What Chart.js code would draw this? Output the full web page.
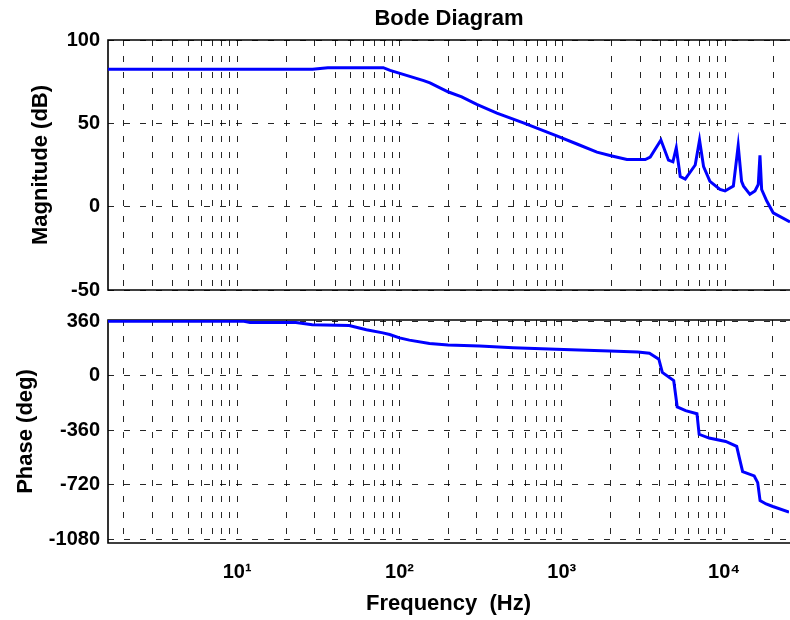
<!DOCTYPE html>
<html><head><meta charset="utf-8">
<script src="https://cdn.jsdelivr.net/npm/chart.js@4.4.0/dist/chart.umd.min.js"></script>
<style>
html,body{margin:0;padding:0;background:#fff;overflow:hidden;width:790px;height:620px;}
#w1{position:absolute;left:0;top:0;width:790px;height:310px;z-index:2;}
#w2{position:absolute;left:0;top:300px;width:790px;height:320px;z-index:1;}
</style></head><body>
<div id="w1"><canvas id="c1"></canvas></div>
<div id="w2"><canvas id="c2"></canvas></div>
<script>
// ---- data ----
const magFreq = [1.6, 29, 36, 79, 87, 100, 140, 153, 199, 240, 297, 395, 575, 922, 1227, 1629, 2015, 2491, 3228, 3466, 4033, 4488, 4779, 5011, 5300, 5690, 6555, 6970, 7380, 8075, 9310, 10000, 11250, 12050, 12640, 13000, 14220, 15280, 16010, 16400, 16800, 18030, 19780, 25100];
const magDb   = [82.5, 82.5, 83.4, 83.4, 81.8, 80.0, 75.6, 74.3, 68.8, 65.9, 61.4, 56.1, 50.3, 42.5, 37.6, 32.7, 30.4, 28.3, 28.3, 29.8, 40.0, 27.9, 26.9, 35.3, 18.1, 16.5, 25.0, 40.0, 24.0, 15.2, 10.3, 9.4, 12.3, 36.6, 15.2, 12.3, 7.4, 9.4, 13.3, 30.8, 10.3, 3.5, -3.7, -9.2];
const phaseFreq = [1.6, 11, 12, 23, 29, 49, 62.5, 79, 87, 100, 115, 153, 199, 311, 501, 922, 1970, 2940, 3466, 3960, 4160, 4890, 5140, 5790, 6800, 7015, 8075, 10230, 11950, 12410, 13000, 15320, 16100, 16650, 18130, 19950, 25100];
const phaseDeg  = [358, 358, 350, 350, 335, 330, 303, 282, 271, 249, 234, 212, 202, 195, 184, 173, 162, 156, 147, 108, 21, -33, -207, -232, -252, -388, -413, -435, -468, -544, -635, -663, -707, -826, -848, -865, -902];
const magTicks = [-50, 0, 50, 100];
const phaseTicks = [-1080, -720, -360, 0, 360];
const decadeLabels = {10: '10\u00B9', 100: '10\u00B2', 1000: '10\u00B3', 10000: '10\u2074'};
const freqMin = 1.6, freqMax = 25100;
const magMin = -50, magMax = 100;
const phaseMin = -1106, phaseMax = 367;

// ---- styling ----
const FAM = '"Liberation Sans", Arial, Helvetica, sans-serif';
const tickFont = {family: FAM, size: 20, weight: 'bold'};
const labelFont = {family: FAM, size: 22, weight: 'bold'};
const gridColor = 'rgba(0,0,0,0.85)';
const dash = [6, 10];

function logTicks() {
  const t = [];
  for (let e = 0; e <= 4; e++) for (let k = 1; k <= 9; k++) {
    const v = k * Math.pow(10, e);
    if (v > freqMin && v < freqMax) t.push({value: v});
  }
  return t;
}

const framePlugin = {
  id: 'frame',
  beforeDatasetsDraw(chart) {
    const {ctx, chartArea: a} = chart;
    ctx.save();
    ctx.strokeStyle = '#000';
    ctx.lineWidth = 1.6;
    ctx.beginPath();
    ctx.moveTo(a.right + 2, a.top);
    ctx.lineTo(a.left, a.top);
    ctx.lineTo(a.left, a.bottom);
    ctx.lineTo(a.right + 2, a.bottom);
    ctx.stroke();
    ctx.restore();
  }
};

function xScale(showLabels) {
  return {
    type: 'logarithmic', min: freqMin, max: freqMax,
    afterBuildTicks: s => { s.ticks = logTicks(); },
    ticks: {
      display: showLabels, autoSkip: false, maxRotation: 0, font: tickFont, color: '#000', padding: 17,
      callback: v => decadeLabels[v] || ''
    },
    grid: {color: gridColor, lineWidth: 1, drawTicks: false},
    border: {display: false, dash: dash},
    title: showLabels ? {display: true, text: 'Frequency  (Hz)', font: labelFont, color: '#000', padding: {top: 0, bottom: 2.8}} : {display: false},
    afterFit: s => { s.height = showLabels ? 77 : 13; }
  };
}

function yScale(min, max, ticks, title, titlePad) {
  return {
    type: 'linear', min: min, max: max,
    afterBuildTicks: s => { s.ticks = ticks.map(v => ({value: v})); },
    ticks: {font: tickFont, color: '#000', padding: 8, autoSkip: false, callback: v => String(v)},
    grid: {color: gridColor, lineWidth: 1, drawTicks: false},
    border: {display: false, dash: dash},
    title: {display: true, text: title, font: labelFont, color: '#000', padding: {top: titlePad, bottom: 0}},
    afterFit: s => { s.width = 108; }
  };
}

function lineData(xs, ys) {
  return xs.map((f, i) => ({x: f, y: ys[i]}));
}

const common = {
  responsive: true, maintainAspectRatio: false, animation: false, devicePixelRatio: 1,
  events: []
};

new Chart(document.getElementById('c1'), {
  type: 'line',
  data: {datasets: [{data: lineData(magFreq, magDb), borderColor: '#0000FF', borderWidth: 3, pointRadius: 0, tension: 0, fill: false}]},
  options: Object.assign({}, common, {
    layout: {padding: {left: 0, right: 0, top: 0, bottom: 0}},
    plugins: {
      legend: {display: false}, tooltip: {enabled: false},
      title: {display: true, text: 'Bode Diagram', fullSize: false, font: labelFont, color: '#000', padding: {top: 6, bottom: 7.6}}
    },
    scales: {
      x: xScale(false),
      y: yScale(magMin, magMax, magTicks, 'Magnitude (dB)', 27.8)
    }
  }),
  plugins: [framePlugin]
});

new Chart(document.getElementById('c2'), {
  type: 'line',
  data: {datasets: [{data: lineData(phaseFreq, phaseDeg), borderColor: '#0000FF', borderWidth: 3, pointRadius: 0, tension: 0, fill: false}]},
  options: Object.assign({}, common, {
    layout: {padding: {left: 0, right: 0, top: 17, bottom: 0}},
    plugins: {legend: {display: false}, tooltip: {enabled: false}, title: {display: false}},
    scales: {
      x: xScale(true),
      y: yScale(phaseMin, phaseMax, phaseTicks, 'Phase (deg)', 12.3)
    }
  }),
  plugins: [framePlugin]
});
</script>
</body></html>
